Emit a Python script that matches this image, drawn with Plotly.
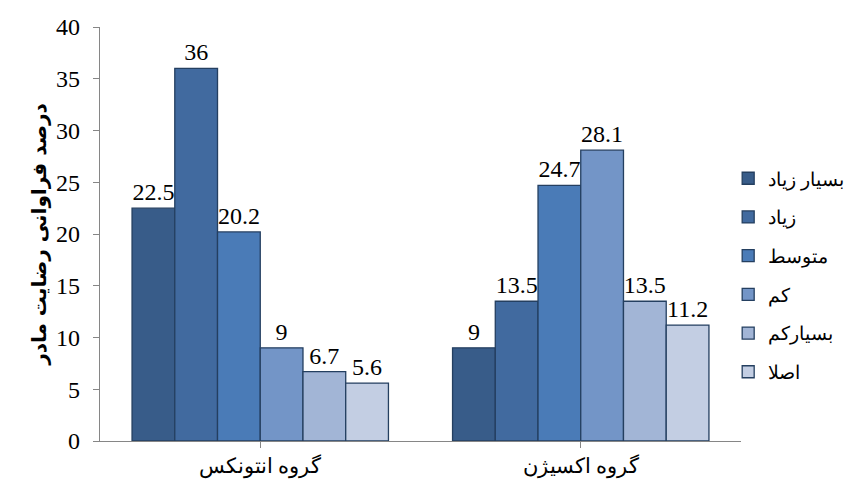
import plotly.graph_objects as go

categories = ["گروه انتونکس", "گروه اکسيژن"]
series_names = ["بسيار زياد", "زياد", "متوسط", "کم", "بسيارکم", "اصلا"]
values = {
    "بسيار زياد": [22.5, 9],
    "زياد": [36, 13.5],
    "متوسط": [20.2, 24.7],
    "کم": [9, 28.1],
    "بسيارکم": [6.7, 13.5],
    "اصلا": [5.6, 11.2],
}
colors = ["#385C89", "#416A9F", "#4A7BB7", "#7395C7", "#A2B5D6", "#C3CEE3"]
y_ticks = [0, 5, 10, 15, 20, 25, 30, 35, 40]

SERIF = "'Liberation Serif', 'Times New Roman', serif"

fig = go.Figure()
for i, name in enumerate(series_names):
    fig.add_trace(go.Bar(
        x=categories, y=values[name], name=name,
        marker=dict(color=colors[i], line=dict(color="#243F60", width=1.3)),
        text=[f"{v:g}" for v in values[name]], textposition="outside",
        textfont=dict(family=SERIF, size=24, color="black"),
        cliponaxis=False, legendgroup=name,
    ))

fig.update_layout(
    width=867, height=490,
    margin=dict(l=100, r=126, t=27, b=49),
    plot_bgcolor="white", paper_bgcolor="white",
    barmode="group", bargap=0.2, bargroupgap=0,
    font=dict(family=SERIF, color="black"),
    showlegend=True,
    legend=dict(x=0.98, xanchor="left", y=0.40, yanchor="middle",
                font=dict(family=SERIF, size=19),
                tracegroupgap=11, traceorder="grouped",
                itemwidth=30),
    xaxis=dict(showline=True, linecolor="#868686", linewidth=1.3,
               ticks="outside", ticklen=6, tickcolor="#868686",
               tickfont=dict(family=SERIF, size=21)),
    yaxis=dict(range=[0, 40], tickvals=y_ticks, showgrid=False, zeroline=False,
               showline=True, linecolor="#868686", linewidth=1.3,
               ticks="outside", ticklen=6, tickcolor="#868686",
               ticklabelstandoff=8,
               tickfont=dict(family=SERIF, size=24),
               title=dict(text="<b>درصد فراوانی رضايت مادر</b>",
                          font=dict(family="DejaVu Sans", size=20), standoff=4)),
)

fig.write_html("out.html")
